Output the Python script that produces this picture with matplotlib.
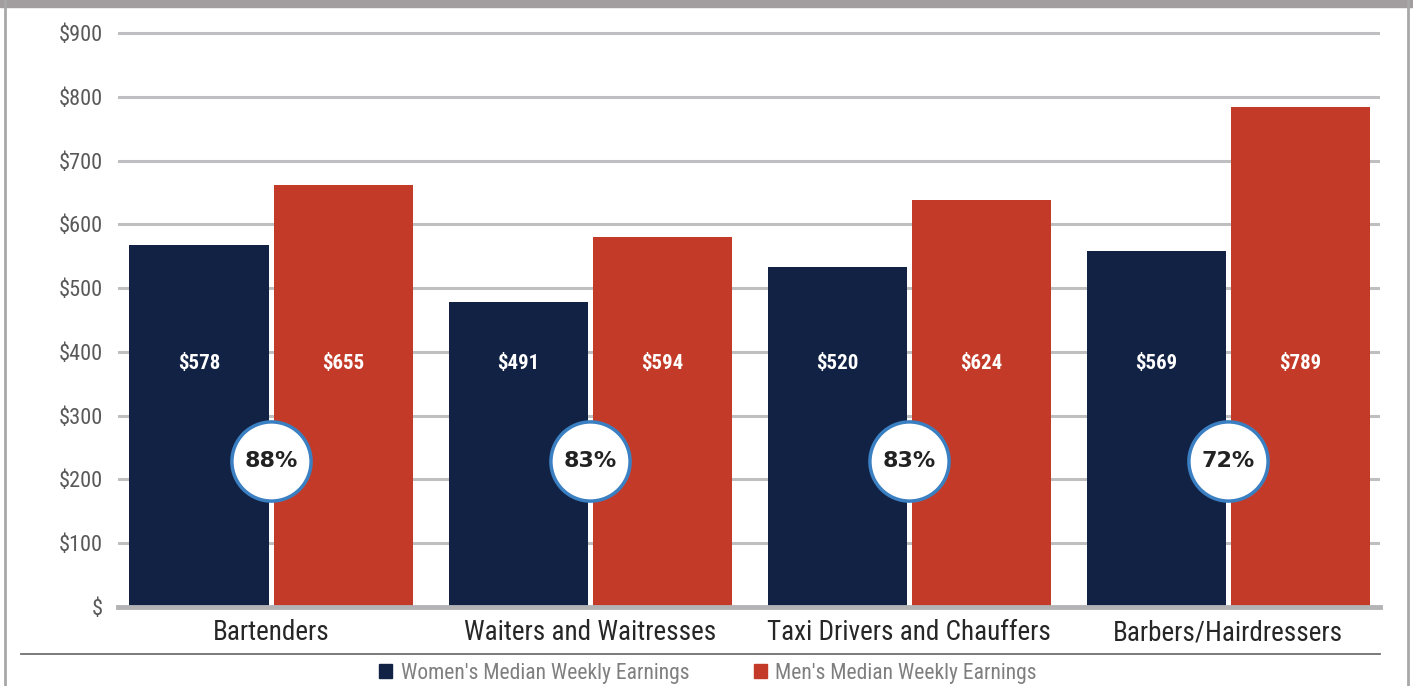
"""Median weekly earnings by occupation, women vs men."""

import matplotlib
matplotlib.use("Agg")
import matplotlib.pyplot as plt
import numpy as np
from matplotlib.patches import Rectangle
from matplotlib.lines import Line2D

# Data
occupations = ["Bartenders", "Waiters and Waitresses",
               "Taxi Drivers and Chauffers", "Barbers/Hairdressers"]
women_bar = [567, 478, 533, 558]
men_bar = [661, 580, 638, 784]
women_labels = ["$578", "$491", "$520", "$569"]
men_labels = ["$655", "$594", "$624", "$789"]
ratio_labels = ["88%", "83%", "83%", "72%"]
y_ticks = [0, 100, 200, 300, 400, 500, 600, 700, 800, 900]
y_tick_labels = ["$", "$100", "$200", "$300", "$400", "$500",
                 "$600", "$700", "$800", "$900"]

NAVY = "#112244"
RED = "#c33b28"
GRID = "#bfbfc1"
COND = ["Roboto Condensed", "Liberation Sans Narrow", "Roboto", "DejaVu Sans"]

plt.rcParams["font.family"] = COND

W, H = 1413, 686
fig = plt.figure(figsize=(W / 100, H / 100), dpi=100)

# frame: grey title band on top, thin grey borders on the sides
fig.patches.append(Rectangle((0, 1 - 7 / H), 1, 7 / H, transform=fig.transFigure,
                             color="#a29ea0", zorder=0))
for xp in (5 / W, 1408 / W):
    fig.lines.append(Line2D([xp, xp], [0, 1], transform=fig.transFigure,
                            color="#a8a8a8", lw=2))
fig.lines.append(Line2D([21 / W, 1380 / W], [1 - 654 / H, 1 - 654 / H],
                        transform=fig.transFigure, color="#6f6f6f", lw=1.3))

px_per_unit = 574 / 900
ymax = 920
top_px = 607 - ymax * px_per_unit
ax = fig.add_axes([118 / W, 1 - 607 / H, 1262 / W, (607 - top_px) / H])

x = np.arange(len(occupations))
bw = 0.436
gap = 0.008
ax.bar(x - bw / 2 - gap, women_bar, bw, color=NAVY, zorder=2)
ax.bar(x + bw / 2 + gap, men_bar, bw, color=RED, zorder=2)

for i in range(len(occupations)):
    ax.text(x[i] - bw / 2 - gap, 382, women_labels[i], color="white",
            fontsize=15, fontweight="bold", ha="center", va="center", zorder=4)
    ax.text(x[i] + bw / 2 + gap, 382, men_labels[i], color="white",
            fontsize=15, fontweight="bold", ha="center", va="center", zorder=4)

ax.scatter(x, [229] * len(x), s=3250, facecolor="white", edgecolor="#3a7fc1",
           linewidth=2.5, zorder=5)
for i in range(len(occupations)):
    ax.text(x[i], 229, ratio_labels[i], color="#222222", fontsize=16,
            fontweight="bold", family=["DejaVu Sans"], ha="center",
            va="center", zorder=6)

ax.set_xlim(-0.48, 3.475)
ax.set_ylim(0, ymax)
ax.set_yticks(y_ticks)
ax.set_yticklabels(y_tick_labels, fontsize=16, color="#595959")
ax.set_xticks(x)
ax.set_xticklabels(occupations, fontsize=19.5, color="#262626")
ax.tick_params(axis="y", length=0, pad=11)
ax.tick_params(axis="x", length=0, pad=9)
for yt in y_ticks[1:]:
    ax.axhline(yt, color=GRID, lw=2.2, zorder=1)
for s in ("top", "right", "left"):
    ax.spines[s].set_visible(False)
ax.spines["bottom"].set_color("#b3b3b5")
ax.spines["bottom"].set_linewidth(3.5)
ax.spines["bottom"].set_zorder(3)
ax.patch.set_visible(False)

handles = [Rectangle((0, 0), 1, 1, color=NAVY), Rectangle((0, 0), 1, 1, color=RED)]
fig.legend(handles, ["Women's Median Weekly Earnings", "Men's Median Weekly Earnings"],
           loc="center", bbox_to_anchor=(708 / W, 1 - 673 / H), ncol=2,
           frameon=False, fontsize=15.5, labelcolor="#7f7f7f", handlelength=0.6,
           handleheight=0.6, handletextpad=0.4, columnspacing=3.0)

fig.savefig("out.png", dpi=100)
